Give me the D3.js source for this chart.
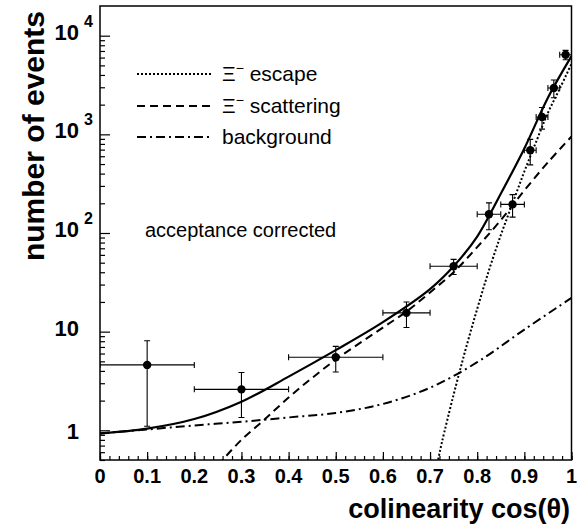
<!DOCTYPE html>
<html>
<head>
<meta charset="utf-8">
<script src="https://cdn.jsdelivr.net/npm/d3@7"></script>
<style>
body { margin: 0; background: #fff; }
text { font-family: "Liberation Sans", Arial, sans-serif; }
</style>
</head>
<body>
<script>
// measured points with errors
var pointX = [0.1, 0.3, 0.5, 0.65, 0.75, 0.825, 0.875, 0.9125, 0.9375, 0.9625, 0.9875];
var pointY = [4.6, 2.6, 5.5, 15.5, 46, 155, 195, 690, 1500, 2950, 6400];
var pointXErr = [0.1, 0.1, 0.1, 0.05, 0.05, 0.025, 0.025, 0.0125, 0.0125, 0.0125, 0.0125];
var pointYErr = [3.5, 1.25, 1.6, 4.5, 8, 47, 50, 200, 370, 600, 700];

// fit curves
var totalFit = [[0, 0.93], [0.1, 1.04], [0.2, 1.3], [0.3, 1.95], [0.4, 3.5], [0.5, 6.5],
	[0.6, 12.5], [0.7, 27], [0.75, 46], [0.8, 92], [0.85, 250], [0.9, 720], [0.95, 2350], [1.0, 6200]];
var escapeFit = [[0.71, 0.35], [0.717, 0.5], [0.725, 0.75], [0.75, 2.3], [0.775, 6.5], [0.8, 17],
	[0.825, 42], [0.85, 95], [0.875, 200], [0.9, 420], [0.925, 840], [0.95, 1650], [0.975, 2900], [1.0, 5200]];
var scatterFit = [[0.25, 0.44], [0.26, 0.5], [0.3, 0.8], [0.35, 1.3], [0.4, 2.15], [0.45, 3.4],
	[0.5, 5.2], [0.55, 7.6], [0.6, 11], [0.65, 16], [0.7, 25], [0.75, 40], [0.8, 72], [0.85, 135],
	[0.9, 270], [0.95, 520], [1.0, 950]];
var backgroundFit = [[0, 0.93], [0.1, 1.02], [0.2, 1.12], [0.3, 1.22], [0.4, 1.35], [0.5, 1.5],
	[0.6, 1.85], [0.7, 2.7], [0.8, 4.9], [0.9, 10.5], [1.0, 22]];

var xTickValues = [0, 0.1, 0.2, 0.3, 0.4, 0.5, 0.6, 0.7, 0.8, 0.9, 1];
var xTickLabels = ["0", "0.1", "0.2", "0.3", "0.4", "0.5", "0.6", "0.7", "0.8", "0.9", "1"];
var yTickValues = [1, 10, 100, 1000, 10000];
var yTickExp = ["", "", "2", "3", "4"];
var yTickBase = ["1", "10", "10", "10", "10"];

var legendNames = ["escape", "scattering", "background"];

var width = 586, height = 530;
var plotL = 100, plotR = 571.5, plotT = 6, plotB = 460;

var svg = d3.select("body").append("svg")
	.attr("width", width)
	.attr("height", height);

var x = d3.scaleLinear().domain([0, 1]).range([plotL, plotR]);
var y = d3.scaleLog().domain([0.5, 20000]).range([plotB, plotT]);

svg.append("defs").append("clipPath")
	.attr("id", "plotClip")
	.append("rect")
		.attr("x", plotL)
		.attr("y", plotT)
		.attr("width", plotR - plotL)
		.attr("height", plotB - plotT);

// minor ticks for log axis
var yMinor = [];
[0.1, 1, 10, 100, 1000].forEach(function(dec){
	for(var k = 2; k <= 9; k++){
		var v = dec * k;
		if(v >= 0.5 && v < 20000) yMinor.push(v);
	}
});

svg.append("g")
	.attr("transform", "translate(" + plotL + ",0)")
	.call(d3.axisRight(y).tickValues(yMinor).tickSize(5).tickFormat(""))
	.call(function(g){ g.select(".domain").remove(); });
svg.append("g")
	.attr("transform", "translate(" + plotL + ",0)")
	.call(d3.axisRight(y).tickValues(yTickValues).tickSize(10).tickFormat(""))
	.call(function(g){ g.select(".domain").remove(); });

var xMinor = d3.range(0, 51).map(function(i){ return i / 50; });
svg.append("g")
	.attr("transform", "translate(0," + plotB + ")")
	.call(d3.axisTop(x).tickValues(xMinor).tickSize(4).tickFormat(""))
	.call(function(g){ g.select(".domain").remove(); });
svg.append("g")
	.attr("transform", "translate(0," + plotB + ")")
	.call(d3.axisTop(x).tickValues(xTickValues).tickSize(8).tickFormat(""))
	.call(function(g){ g.select(".domain").remove(); });

svg.selectAll(".tick line")
	.attr("stroke", "#000")
	.attr("stroke-width", 1.2);

// frame
svg.append("rect")
	.attr("x", plotL)
	.attr("y", plotT)
	.attr("width", plotR - plotL)
	.attr("height", plotB - plotT)
	.attr("fill", "none")
	.attr("stroke", "#000")
	.attr("stroke-width", 1.5);

// tick labels
svg.append("g").selectAll("text")
	.data(xTickValues)
	.enter().append("text")
		.attr("x", function(d){ return x(d); })
		.attr("y", plotB + 23)
		.attr("text-anchor", "middle")
		.attr("font-size", 20)
		.attr("font-weight", "bold")
		.text(function(d, i){ return xTickLabels[i]; });

var yl = svg.append("g").selectAll("g")
	.data(yTickValues)
	.enter().append("g")
		.attr("transform", function(d){ return "translate(0," + y(d) + ")"; });
yl.append("text")
	.attr("x", 79)
	.attr("y", function(d){ return d == 1 ? 9 : 4; })
	.attr("text-anchor", "end")
	.attr("font-size", 22)
	.attr("font-weight", "bold")
	.text(function(d, i){ return yTickBase[i]; });
yl.append("text")
	.attr("x", 84)
	.attr("y", -9)
	.attr("font-size", 16)
	.attr("font-weight", "bold")
	.text(function(d, i){ return yTickExp[i]; });

// axis titles
svg.append("text")
	.attr("transform", "translate(44,136) rotate(-90)")
	.attr("text-anchor", "middle")
	.attr("font-size", 30)
	.attr("font-weight", "bold")
	.text("number of events");

svg.append("text")
	.attr("x", 570)
	.attr("y", 518)
	.attr("text-anchor", "end")
	.attr("font-size", 27)
	.attr("font-weight", "bold")
	.text("colinearity cos(θ)");

// curves
var line = d3.line()
	.x(function(d){ return x(d[0]); })
	.y(function(d){ return y(d[1]); })
	.curve(d3.curveCatmullRom.alpha(0.5));

var plot = svg.append("g").attr("clip-path", "url(#plotClip)");

var curves = [
	{data: backgroundFit, dash: "9,4,2,4", w: 2},
	{data: scatterFit, dash: "8,5", w: 2},
	{data: escapeFit, dash: "2,2", w: 2},
	{data: totalFit, dash: null, w: 2.2}
];
plot.selectAll("path.fit")
	.data(curves)
	.enter().append("path")
		.attr("class", "fit")
		.attr("d", function(d){ return line(d.data); })
		.attr("fill", "none")
		.attr("stroke", "#000")
		.attr("stroke-width", function(d){ return d.w; })
		.attr("stroke-dasharray", function(d){ return d.dash; });

// error bars
var pts = pointX.map(function(v, i){
	return {x: v, y: pointY[i], ex: pointXErr[i], ey: pointYErr[i]};
});
var eb = plot.append("g").selectAll("g")
	.data(pts)
	.enter().append("g")
		.attr("stroke", "#000")
		.attr("stroke-width", 1.1);
eb.append("line")
	.attr("x1", function(d){ return x(d.x - d.ex); })
	.attr("x2", function(d){ return x(d.x + d.ex); })
	.attr("y1", function(d){ return y(d.y); })
	.attr("y2", function(d){ return y(d.y); });
eb.append("line")
	.attr("x1", function(d){ return x(d.x); })
	.attr("x2", function(d){ return x(d.x); })
	.attr("y1", function(d){ return y(d.y - d.ey); })
	.attr("y2", function(d){ return y(d.y + d.ey); });
// caps
eb.append("path")
	.attr("fill", "none")
	.attr("d", function(d){
		var cx = x(d.x), cy = y(d.y), c = 3;
		var xl = x(d.x - d.ex), xr = x(d.x + d.ex);
		var yt = y(d.y + d.ey), yb = y(d.y - d.ey);
		return "M" + (cx - c) + "," + yt + "H" + (cx + c) +
			"M" + (cx - c) + "," + yb + "H" + (cx + c) +
			"M" + xl + "," + (cy - c) + "V" + (cy + c) +
			"M" + xr + "," + (cy - c) + "V" + (cy + c);
	});
plot.append("g").selectAll("circle")
	.data(pts)
	.enter().append("circle")
		.attr("cx", function(d){ return x(d.x); })
		.attr("cy", function(d){ return y(d.y); })
		.attr("r", 4.2)
		.attr("fill", "#000");

// legend
var legend = svg.append("g");
var legendY = [74, 106, 137];
var legendDash = ["2,2", "8,5", "9,4,2,4"];
legendNames.forEach(function(name, i){
	legend.append("line")
		.attr("x1", 137)
		.attr("x2", 212)
		.attr("y1", legendY[i])
		.attr("y2", legendY[i])
		.attr("stroke", "#000")
		.attr("stroke-width", 2)
		.attr("stroke-dasharray", legendDash[i]);
	var t = legend.append("text")
		.attr("x", 222)
		.attr("y", legendY[i] + 7)
		.attr("font-size", 21);
	if(i < 2){
		t.append("tspan").text("Ξ");
		t.append("tspan").attr("dy", -8).attr("font-size", 14).text("−");
		t.append("tspan").attr("dy", 8).text(" " + name);
	} else {
		t.text(name);
	}
});

svg.append("text")
	.attr("x", 145)
	.attr("y", 237)
	.attr("font-size", 20)
	.text("acceptance corrected");
</script>
</body>
</html>
